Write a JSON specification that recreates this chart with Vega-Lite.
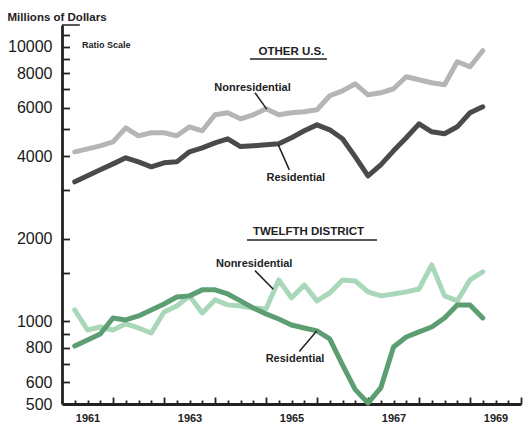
{
  "$schema": "https://vega.github.io/schema/vega-lite/v6.json",
  "autosize": "none",
  "width": 459,
  "height": 379,
  "padding": {"left": 62, "top": 25, "right": 3, "bottom": 18},
  "background": "white",
  "title": {"text": "Millions of Dollars", "anchor": "start", "frame": "bounds", "font": "Liberation Sans", "fontSize": 11.5, "fontWeight": "bold", "color": "#222", "offset": 1},
  "config": {"view": {"stroke": null}},
  "resolve": {"axis": {"x": "independent", "y": "independent"}},
  "datasets": {
    "series": [
      {"s": "US Nonresidential", "t": 1961.25, "v": 4143}, {"s": "US Nonresidential", "t": 1961.5, "v": 4249}, {"s": "US Nonresidential", "t": 1961.75, "v": 4357}, {"s": "US Nonresidential", "t": 1962.0, "v": 4506},
      {"s": "US Nonresidential", "t": 1962.25, "v": 5067}, {"s": "US Nonresidential", "t": 1962.5, "v": 4738}, {"s": "US Nonresidential", "t": 1962.75, "v": 4860}, {"s": "US Nonresidential", "t": 1963.0, "v": 4860},
      {"s": "US Nonresidential", "t": 1963.25, "v": 4738}, {"s": "US Nonresidential", "t": 1963.5, "v": 5110}, {"s": "US Nonresidential", "t": 1963.75, "v": 4942}, {"s": "US Nonresidential", "t": 1964.0, "v": 5651},
      {"s": "US Nonresidential", "t": 1964.25, "v": 5747}, {"s": "US Nonresidential", "t": 1964.5, "v": 5464}, {"s": "US Nonresidential", "t": 1964.75, "v": 5651}, {"s": "US Nonresidential", "t": 1965.0, "v": 5945},
      {"s": "US Nonresidential", "t": 1965.25, "v": 5651}, {"s": "US Nonresidential", "t": 1965.5, "v": 5747}, {"s": "US Nonresidential", "t": 1965.75, "v": 5795}, {"s": "US Nonresidential", "t": 1966.0, "v": 5895},
      {"s": "US Nonresidential", "t": 1966.25, "v": 6628}, {"s": "US Nonresidential", "t": 1966.5, "v": 6910}, {"s": "US Nonresidential", "t": 1966.75, "v": 7331}, {"s": "US Nonresidential", "t": 1967.0, "v": 6685},
      {"s": "US Nonresidential", "t": 1967.25, "v": 6797}, {"s": "US Nonresidential", "t": 1967.5, "v": 7031}, {"s": "US Nonresidential", "t": 1967.75, "v": 7774}, {"s": "US Nonresidential", "t": 1968.0, "v": 7582},
      {"s": "US Nonresidential", "t": 1968.25, "v": 7392}, {"s": "US Nonresidential", "t": 1968.5, "v": 7271}, {"s": "US Nonresidential", "t": 1968.75, "v": 8816}, {"s": "US Nonresidential", "t": 1969.0, "v": 8453},
      {"s": "US Nonresidential", "t": 1969.25, "v": 9670},

      {"s": "US Residential", "t": 1961.25, "v": 3221}, {"s": "US Residential", "t": 1961.5, "v": 3388}, {"s": "US Residential", "t": 1961.75, "v": 3562}, {"s": "US Residential", "t": 1962.0, "v": 3745},
      {"s": "US Residential", "t": 1962.25, "v": 3939}, {"s": "US Residential", "t": 1962.5, "v": 3809}, {"s": "US Residential", "t": 1962.75, "v": 3653}, {"s": "US Residential", "t": 1963.0, "v": 3777},
      {"s": "US Residential", "t": 1963.25, "v": 3809}, {"s": "US Residential", "t": 1963.5, "v": 4143}, {"s": "US Residential", "t": 1963.75, "v": 4284}, {"s": "US Residential", "t": 1964.0, "v": 4468},
      {"s": "US Residential", "t": 1964.25, "v": 4621}, {"s": "US Residential", "t": 1964.5, "v": 4330}, {"s": "US Residential", "t": 1964.75, "v": 4357}, {"s": "US Residential", "t": 1965.0, "v": 4393},
      {"s": "US Residential", "t": 1965.25, "v": 4431}, {"s": "US Residential", "t": 1965.5, "v": 4660}, {"s": "US Residential", "t": 1965.75, "v": 4942}, {"s": "US Residential", "t": 1966.0, "v": 5194},
      {"s": "US Residential", "t": 1966.25, "v": 4983}, {"s": "US Residential", "t": 1966.5, "v": 4621}, {"s": "US Residential", "t": 1966.75, "v": 3973}, {"s": "US Residential", "t": 1967.0, "v": 3388},
      {"s": "US Residential", "t": 1967.25, "v": 3715}, {"s": "US Residential", "t": 1967.5, "v": 4178}, {"s": "US Residential", "t": 1967.75, "v": 4660}, {"s": "US Residential", "t": 1968.0, "v": 5240},
      {"s": "US Residential", "t": 1968.25, "v": 4901}, {"s": "US Residential", "t": 1968.5, "v": 4819}, {"s": "US Residential", "t": 1968.75, "v": 5110}, {"s": "US Residential", "t": 1969.0, "v": 5747},
      {"s": "US Residential", "t": 1969.25, "v": 6044},

      {"s": "TD Nonresidential", "t": 1961.25, "v": 1100}, {"s": "TD Nonresidential", "t": 1961.5, "v": 930}, {"s": "TD Nonresidential", "t": 1961.75, "v": 954}, {"s": "TD Nonresidential", "t": 1962.0, "v": 930},
      {"s": "TD Nonresidential", "t": 1962.25, "v": 979}, {"s": "TD Nonresidential", "t": 1962.5, "v": 946}, {"s": "TD Nonresidential", "t": 1962.75, "v": 907}, {"s": "TD Nonresidential", "t": 1963.0, "v": 1082},
      {"s": "TD Nonresidential", "t": 1963.25, "v": 1138}, {"s": "TD Nonresidential", "t": 1963.5, "v": 1238}, {"s": "TD Nonresidential", "t": 1963.75, "v": 1073}, {"s": "TD Nonresidential", "t": 1964.0, "v": 1197},
      {"s": "TD Nonresidential", "t": 1964.25, "v": 1148}, {"s": "TD Nonresidential", "t": 1964.5, "v": 1138}, {"s": "TD Nonresidential", "t": 1964.75, "v": 1119}, {"s": "TD Nonresidential", "t": 1965.0, "v": 1110},
      {"s": "TD Nonresidential", "t": 1965.25, "v": 1415}, {"s": "TD Nonresidential", "t": 1965.5, "v": 1217}, {"s": "TD Nonresidential", "t": 1965.75, "v": 1357}, {"s": "TD Nonresidential", "t": 1966.0, "v": 1187},
      {"s": "TD Nonresidential", "t": 1966.25, "v": 1269}, {"s": "TD Nonresidential", "t": 1966.5, "v": 1415}, {"s": "TD Nonresidential", "t": 1966.75, "v": 1403}, {"s": "TD Nonresidential", "t": 1967.0, "v": 1280},
      {"s": "TD Nonresidential", "t": 1967.25, "v": 1238}, {"s": "TD Nonresidential", "t": 1967.5, "v": 1258}, {"s": "TD Nonresidential", "t": 1967.75, "v": 1280}, {"s": "TD Nonresidential", "t": 1968.0, "v": 1312},
      {"s": "TD Nonresidential", "t": 1968.25, "v": 1605}, {"s": "TD Nonresidential", "t": 1968.5, "v": 1238}, {"s": "TD Nonresidential", "t": 1968.75, "v": 1187}, {"s": "TD Nonresidential", "t": 1969.0, "v": 1415},
      {"s": "TD Nonresidential", "t": 1969.25, "v": 1514},

      {"s": "TD Residential", "t": 1961.25, "v": 813}, {"s": "TD Residential", "t": 1961.5, "v": 855}, {"s": "TD Residential", "t": 1961.75, "v": 899}, {"s": "TD Residential", "t": 1962.0, "v": 1029},
      {"s": "TD Residential", "t": 1962.25, "v": 1012}, {"s": "TD Residential", "t": 1962.5, "v": 1046}, {"s": "TD Residential", "t": 1962.75, "v": 1100}, {"s": "TD Residential", "t": 1963.0, "v": 1157},
      {"s": "TD Residential", "t": 1963.25, "v": 1227}, {"s": "TD Residential", "t": 1963.5, "v": 1238}, {"s": "TD Residential", "t": 1963.75, "v": 1302}, {"s": "TD Residential", "t": 1964.0, "v": 1302},
      {"s": "TD Residential", "t": 1964.25, "v": 1258}, {"s": "TD Residential", "t": 1964.5, "v": 1187}, {"s": "TD Residential", "t": 1964.75, "v": 1119}, {"s": "TD Residential", "t": 1965.0, "v": 1064},
      {"s": "TD Residential", "t": 1965.25, "v": 1020}, {"s": "TD Residential", "t": 1965.5, "v": 970}, {"s": "TD Residential", "t": 1965.75, "v": 946}, {"s": "TD Residential", "t": 1966.0, "v": 923},
      {"s": "TD Residential", "t": 1966.25, "v": 863}, {"s": "TD Residential", "t": 1966.5, "v": 694}, {"s": "TD Residential", "t": 1966.75, "v": 564}, {"s": "TD Residential", "t": 1967.0, "v": 504},
      {"s": "TD Residential", "t": 1967.25, "v": 572}, {"s": "TD Residential", "t": 1967.5, "v": 807}, {"s": "TD Residential", "t": 1967.75, "v": 877}, {"s": "TD Residential", "t": 1968.0, "v": 915},
      {"s": "TD Residential", "t": 1968.25, "v": 954}, {"s": "TD Residential", "t": 1968.5, "v": 1029}, {"s": "TD Residential", "t": 1968.75, "v": 1148}, {"s": "TD Residential", "t": 1969.0, "v": 1148},
      {"s": "TD Residential", "t": 1969.25, "v": 1029}
    ],
    "labels": [
      {"kind": "series", "text": "Nonresidential", "t": 1964.735, "v": 7071},
      {"kind": "series", "text": "Residential", "t": 1965.585, "v": 3323},
      {"kind": "series", "text": "Nonresidential", "t": 1964.768, "v": 1618},
      {"kind": "series", "text": "Residential", "t": 1965.569, "v": 728},
      {"kind": "header", "text": "OTHER U.S.", "t": 1965.5, "v": 9590},
      {"kind": "header", "text": "TWELFTH DISTRICT", "t": 1965.833, "v": 2117},
      {"kind": "note", "text": "Ratio Scale", "t": 1961.392, "v": 10170}
    ],
    "rules": [
      {"t": 1964.784, "v": 6797, "t2": 1965.014, "v2": 5929},
      {"t": 1965.241, "v": 4393, "t2": 1965.457, "v2": 3562},
      {"t": 1964.784, "v": 1530, "t2": 1965.143, "v2": 1309},
      {"t": 1965.653, "v": 776, "t2": 1965.994, "v2": 923},
      {"t": 1964.686, "v": 9021, "t2": 1966.196, "v2": 9021},
      {"t": 1964.627, "v": 1980, "t2": 1967.176, "v2": 1980},
      {"t": 1961.0, "v": 12000, "t2": 1961.35, "v2": 12000}
    ]
  },
  "layer": [
    {
      "data": {"name": "series"},
      "mark": {"type": "line", "strokeWidth": 5, "strokeJoin": "round", "strokeCap": "round"},
      "encoding": {
        "x": {"field": "t", "type": "quantitative",
          "scale": {"domain": [1961, 1970], "nice": false, "zero": false},
          "axis": {"title": null, "grid": false, "orient": "bottom", "ticks": false,
            "values": [1961.5, 1963.5, 1965.5, 1967.5, 1969.5],
            "labelExpr": "'' + floor(datum.value)",
            "labelOverlap": false, "labelFlush": false, "labelBound": false,
            "domainColor": "#222", "domainWidth": 2.8,
            "labelPadding": 8,
            "labelFont": "Liberation Sans", "labelFontSize": 11, "labelFontWeight": "bold", "labelColor": "#222"}},
        "y": {"field": "v", "type": "quantitative",
          "scale": {"type": "log", "domain": [500, 12000], "nice": false, "zero": false},
          "axis": {"title": null, "grid": false, "orient": "left", "ticks": false,
            "values": [500, 600, 800, 1000, 2000, 4000, 6000, 8000, 10000],
            "labelExpr": "format(datum.value, 'd')",
            "labelOverlap": false, "labelBound": false, "labelFlush": false,
            "domainColor": "#222", "domainWidth": 2.8,
            "labelPadding": 10,
            "labelFont": "Liberation Sans", "labelFontSize": 16, "labelColor": "#1a1a1a"}},
        "color": {"field": "s", "type": "nominal", "legend": null,
          "scale": {"domain": ["US Nonresidential", "US Residential", "TD Nonresidential", "TD Residential"],
                    "range": ["#b5b5b5", "#4a4a4a", "#a9d7b9", "#5c9e72"]}},
        "order": {"field": "t", "type": "quantitative"}
      }
    },
    {
      "data": {"name": "rules"},
      "mark": {"type": "rule", "color": "#222", "strokeWidth": 1.5},
      "encoding": {
        "x": {"field": "t", "type": "quantitative",
          "axis": {"title": null, "grid": false, "orient": "top", "offset": -379, "domain": false, "labels": false,
            "values": [1961.25, 1961.5, 1961.75, 1962.25, 1962.5, 1962.75, 1963.25, 1963.5, 1963.75, 1964.25, 1964.5, 1964.75, 1965.25, 1965.5, 1965.75, 1966.25, 1966.5, 1966.75, 1967.25, 1967.5, 1967.75, 1968.25, 1968.5, 1968.75, 1969.25, 1969.5, 1969.75],
            "tickSize": 4, "tickColor": "#222", "tickWidth": 1.8}},
        "y": {"field": "v", "type": "quantitative",
          "axis": {"title": null, "grid": false, "orient": "right", "offset": -459, "domain": false, "labels": false,
            "values": [600, 700, 800, 900, 1000, 1500, 2000, 3000, 4000, 5000, 6000, 7000, 8000, 9000, 10000, 11000],
            "tickSize": 7.5, "tickColor": "#222", "tickWidth": 1.8}},
        "x2": {"field": "t2"},
        "y2": {"field": "v2"}
      }
    },
    {
      "data": {"name": "labels"},
      "transform": [{"filter": "datum.kind == 'series'"}],
      "mark": {"type": "text", "font": "Liberation Sans", "fontSize": 11, "fontWeight": "bold", "color": "#222", "align": "center", "baseline": "middle"},
      "encoding": {
        "x": {"field": "t", "type": "quantitative",
          "axis": {"title": null, "grid": false, "orient": "top", "offset": -379, "domain": false, "labels": false,
            "values": [1962, 1963, 1964, 1965, 1966, 1967, 1968, 1969, 1970],
            "tickSize": 7, "tickColor": "#222", "tickWidth": 1.8}},
        "y": {"field": "v", "type": "quantitative", "axis": null},
        "text": {"field": "text"}
      }
    },
    {
      "data": {"name": "labels"},
      "transform": [{"filter": "datum.kind == 'header'"}],
      "mark": {"type": "text", "font": "Liberation Sans", "fontSize": 11.5, "fontWeight": "bold", "color": "#222", "align": "center", "baseline": "middle"},
      "encoding": {
        "x": {"field": "t", "type": "quantitative", "axis": null},
        "y": {"field": "v", "type": "quantitative", "axis": null},
        "text": {"field": "text"}
      }
    },
    {
      "data": {"name": "labels"},
      "transform": [{"filter": "datum.kind == 'note'"}],
      "mark": {"type": "text", "font": "Liberation Sans", "fontSize": 9, "fontWeight": "bold", "color": "#222", "align": "left", "baseline": "middle"},
      "encoding": {
        "x": {"field": "t", "type": "quantitative", "axis": null},
        "y": {"field": "v", "type": "quantitative", "axis": null},
        "text": {"field": "text"}
      }
    }
  ]
}
